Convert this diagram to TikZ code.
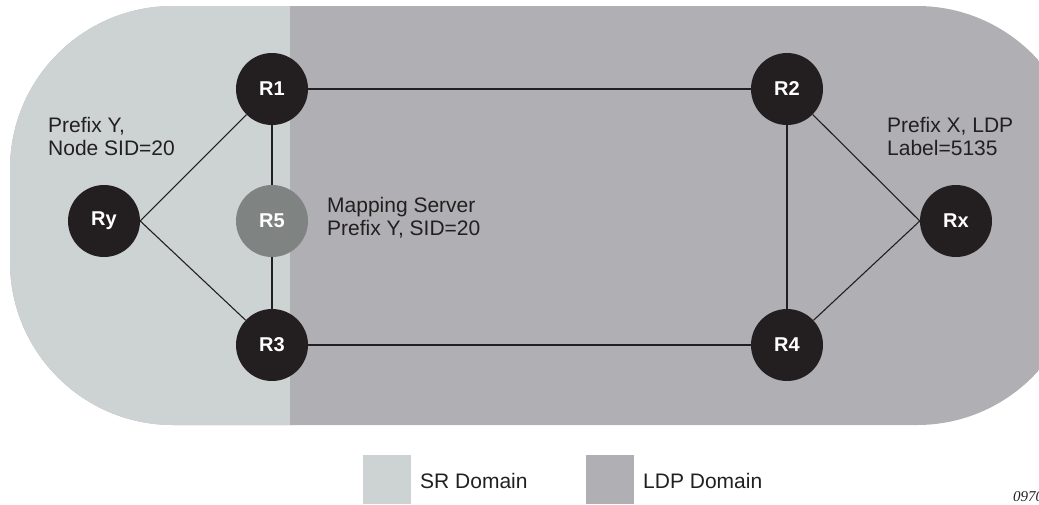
\documentclass[tikz,border=0pt]{standalone}
\usepackage{fontspec}
\setmainfont{Liberation Sans}
\newfontfamily\figfont{Liberation Serif}
\definecolor{srcol}{HTML}{CDD3D3}
\definecolor{ldpcol}{HTML}{B0AFB3}
\definecolor{rblack}{HTML}{231F20}
\definecolor{rgray}{HTML}{7F8483}
\definecolor{txt}{HTML}{231F20}
\tikzset{
  router/.style={circle,fill=rblack,minimum size=72pt,inner sep=0pt,text=white,font=\fontsize{20}{22}\selectfont\bfseries},
  mapper/.style={router,fill=rgray},
  link/.style={draw=rblack,line width=1.1pt},
  note/.style={align=left,anchor=north west,inner sep=0pt,text=txt,font=\fontsize{21}{23}\selectfont},
  legtext/.style={anchor=west,inner sep=0pt,text=txt,font=\fontsize{21}{23}\selectfont},
  legbox/.style={minimum width=48pt,minimum height=49pt,inner sep=0pt,anchor=north west}
}
\begin{document}
\begin{tikzpicture}[x=1pt,y=-1pt]
\useasboundingbox (0,0) rectangle (1039,504);
\clip (0,0) rectangle (1039,504);
% domains
\begin{scope}
  \clip[rounded corners=163pt] (10,6) rectangle (1080,425);
  \fill[ldpcol] (0,0) rectangle (1100,430);
  \fill[srcol] (0,0) rectangle (290,430);
\end{scope}
% routers
\node[router] (R1) at (272,89) {R1};
\node[router] (R2) at (787,89) {R2};
\node[router] (R3) at (272,345) {R3};
\node[router] (R4) at (787,345) {R4};
\node[router] (Ry) at (104,221) {Ry};
\node[router] (Rx) at (956,221) {Rx};
\node[mapper] (R5) at (272,221) {R5};
% links
\draw[link] (Ry.east) -- (R1);
\draw[link] (Ry.east) -- (R3);
\draw[link] (R1) -- (R5);
\draw[link] (R5) -- (R3);
\draw[link] (R1) -- (R2);
\draw[link] (R3) -- (R4);
\draw[link] (R2) -- (R4);
\draw[link] (R2) -- (Rx.west);
\draw[link] (R4) -- (Rx.west);
% notes
\node[note] (ny) at (48,117) {Prefix Y,\\Node SID=20};
\node[note] (nm) at (327,197) {Mapping Server\\Prefix Y, SID=20};
\node[note] (nx) at (887,117) {Prefix X, LDP\\Label=5135};
% legend
\node[legbox,fill=srcol] (lsr) at (363,455) {};
\node[legtext] (tsr) at (420,481) {SR Domain};
\node[legbox,fill=ldpcol] (lldp) at (586,455) {};
\node[legtext] (tldp) at (643,481) {LDP Domain};
\node[anchor=west,inner sep=0pt,text=txt,font=\figfont\itshape\fontsize{15}{17}\selectfont] (fig) at (1013,497) {09701};
\end{tikzpicture}
\end{document}
